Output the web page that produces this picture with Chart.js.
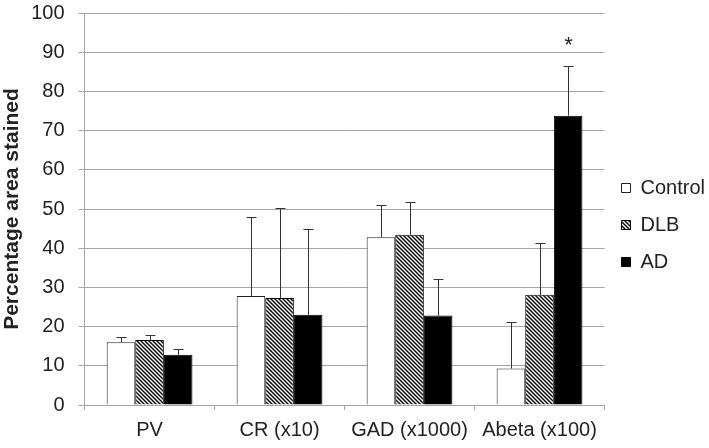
<!DOCTYPE html>
<html lang="en">
<head>
<meta charset="UTF-8">
<title>Percentage area stained</title>
<script src="https://cdn.jsdelivr.net/npm/chart.js"></script>
<style>
  body { margin: 0; background: #fff; }
</style>
</head>
<body>
<div style="width: 709px; height: 448px;">
  <canvas id="myChart"></canvas>
</div>
<script>
  // data
  var categories = ['PV', 'CR (x10)', 'GAD (x1000)', 'Abeta (x100)'];
  var controlVals = [16.0, 27.8, 42.8, 9.3];
  var controlErr  = [1.3, 20.2, 8.2, 11.9];
  var dlbVals     = [16.6, 27.3, 43.4, 28.1];
  var dlbErr      = [1.2, 22.9, 8.5, 13.2];
  var adVals      = [12.8, 23.0, 22.8, 73.8];
  var adErr       = [1.5, 21.9, 9.3, 12.8];
  var adSignif    = ['', '', '', '*'];
  var yTicks      = [0, 10, 20, 30, 40, 50, 60, 70, 80, 90, 100];

  var FONT = "'Liberation Sans', Arial, sans-serif";
  var TEXT = '#222';
  var GRID = '#a6a6a6';

  // diagonal hatch for DLB
  function makeHatch() {
    var c = document.createElement('canvas');
    c.width = 4; c.height = 4;
    var g = c.getContext('2d');
    g.fillStyle = '#fff';
    g.fillRect(0, 0, 4, 4);
    g.strokeStyle = '#000';
    g.lineWidth = 1.4;
    g.beginPath();
    g.moveTo(-1, -1); g.lineTo(5, 5);
    g.moveTo(-1, 3); g.lineTo(1, 5);
    g.moveTo(3, -1); g.lineTo(5, 1);
    g.stroke();
    return g.createPattern(c, 'repeat');
  }
  var hatch = makeHatch();

  // upward error bars + significance marks
  var errorBars = {
    id: 'errorBars',
    afterDatasetsDraw: function (chart) {
      var ctx = chart.ctx;
      var y = chart.scales.y;
      ctx.save();
      ctx.strokeStyle = '#333';
      ctx.lineWidth = 1;
      chart.data.datasets.forEach(function (ds, di) {
        var meta = chart.getDatasetMeta(di);
        meta.data.forEach(function (bar, i) {
          var top = y.getPixelForValue(ds.data[i] + ds.err[i]);
          var x = Math.round(bar.x) + 0.5;
          ctx.beginPath();
          ctx.moveTo(x, bar.y);
          ctx.lineTo(x, Math.round(top) + 0.5);
          ctx.moveTo(x - 5, Math.round(top) + 0.5);
          ctx.lineTo(x + 5, Math.round(top) + 0.5);
          ctx.stroke();
          if (ds.signif && ds.signif[i]) {
            ctx.fillStyle = TEXT;
            ctx.font = '22px ' + FONT;
            ctx.textAlign = 'center';
            ctx.textBaseline = 'middle';
            ctx.fillText(ds.signif[i], x, top - 20);
          }
        });
      });
      ctx.restore();
    }
  };

  var ctx = document.querySelector('#myChart');

  var myChart = new Chart(ctx, {
    type: 'bar',
    data: {
      labels: categories,
      datasets: [
        { label: 'Control', data: controlVals, err: controlErr,
          backgroundColor: '#fff', borderColor: '#222', borderWidth: 1 },
        { label: 'DLB', data: dlbVals, err: dlbErr,
          backgroundColor: hatch, borderColor: '#000', borderWidth: 1 },
        { label: 'AD', data: adVals, err: adErr, signif: adSignif,
          backgroundColor: '#000', borderColor: '#000', borderWidth: 1 }
      ]
    },
    options: {
      responsive: true,
      maintainAspectRatio: false,
      animation: false,
      layout: { padding: { top: 0, right: -6, bottom: -2, left: 0 } },
      datasets: { bar: { categoryPercentage: 0.66, barPercentage: 1.0 } },
      plugins: {
        tooltip: { enabled: false },
        legend: {
          position: 'right',
          labels: {
            boxWidth: 9, boxHeight: 9, padding: 17,
            color: TEXT,
            font: { family: FONT, size: 20 }
          }
        }
      },
      scales: {
        x: {
          grid: { display: true, drawOnChartArea: false, offset: true, color: GRID, tickLength: 5 },
          border: { color: GRID },
          ticks: { color: TEXT, font: { family: FONT, size: 20 }, padding: 8, maxRotation: 0 }
        },
        y: {
          min: 0, max: 100,
          afterBuildTicks: function (axis) {
            axis.ticks = yTicks.map(function (v) { return { value: v }; });
          },
          afterFit: function (axis) {
            axis.paddingTop = 13;
          },
          grid: { color: GRID, tickLength: 6 },
          border: { color: GRID },
          ticks: { color: TEXT, font: { family: FONT, size: 20 }, padding: 14 },
          title: {
            display: true,
            text: 'Percentage area stained',
            color: TEXT,
            font: { family: FONT, size: 21, weight: 'bold' },
            padding: { top: 0, bottom: -8 }
          }
        }
      }
    },
    plugins: [errorBars]
  });
</script>
</body>
</html>
